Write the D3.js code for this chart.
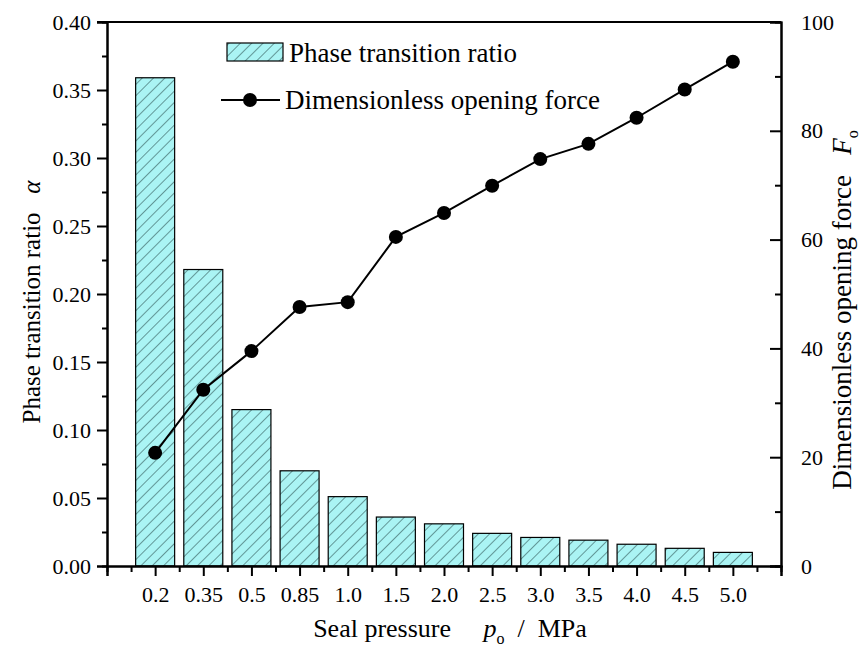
<!DOCTYPE html>
<html>
<head>
<meta charset="utf-8">
<script src="https://cdn.jsdelivr.net/npm/d3@7"></script>
<style>
  body { margin: 0; background: #fff; }
</style>
</head>
<body>
<svg id="chart" width="866" height="652" font-family="'Liberation Serif', 'Times New Roman', serif"></svg>
<script>
// data
const pressures = ["0.2", "0.35", "0.5", "0.85", "1.0", "1.5", "2.0", "2.5", "3.0", "3.5", "4.0", "4.5", "5.0"];
const phaseRatio = [0.359, 0.218, 0.115, 0.070, 0.051, 0.036, 0.031, 0.024, 0.021, 0.019, 0.016, 0.013, 0.010];
const openingForce = [20.8, 32.4, 39.5, 47.6, 48.5, 60.5, 64.9, 69.9, 74.8, 77.6, 82.4, 87.6, 92.7];
const leftTicks = [0, 0.05, 0.1, 0.15, 0.2, 0.25, 0.3, 0.35, 0.4];
const rightTicks = [0, 20, 40, 60, 80, 100];

const FONT = "'Liberation Serif', 'Times New Roman', serif";

const margin = {top: 22, right: 85, bottom: 86, left: 107};
const width = 866 - margin.left - margin.right;
const height = 652 - margin.top - margin.bottom;

const svg = d3.select("#chart");

// hatch pattern for the bars
const defs = svg.append("defs");
const pat = defs.append("pattern")
    .attr("id", "hatch")
    .attr("patternUnits", "userSpaceOnUse")
    .attr("width", 8).attr("height", 8)
    .attr("patternTransform", "rotate(45)");
pat.append("rect").attr("width", 8).attr("height", 8).attr("fill", "#aaf4f4");
pat.append("line")
    .attr("x1", 0).attr("y1", 0).attr("x2", 0).attr("y2", 8)
    .attr("stroke", "#1a3a3a").attr("stroke-width", 1);

const g = svg.append("g").attr("transform", `translate(${margin.left},${margin.top})`);

// x is linear over slots 0..14, categories at 1..13
const x = d3.scaleLinear().domain([0, pressures.length + 1]).range([0, width]);
const yL = d3.scaleLinear().domain([0, 0.4]).range([height, 0]);
const yR = d3.scaleLinear().domain([0, 100]).range([height, 0]);

const step = x(1) - x(0);
const barW = step * 0.81;

// bars
g.selectAll("rect.bar")
  .data(phaseRatio)
  .join("rect")
    .attr("class", "bar")
    .attr("x", (d, i) => x(i + 1) - barW / 2)
    .attr("y", d => yL(d))
    .attr("width", barW)
    .attr("height", d => height - yL(d))
    .attr("fill", "url(#hatch)")
    .attr("stroke", "#000")
    .attr("stroke-width", 1.2);

// line + dots
const line = d3.line()
    .x((d, i) => x(i + 1))
    .y(d => yR(d));
g.append("path")
    .datum(openingForce)
    .attr("d", line)
    .attr("fill", "none")
    .attr("stroke", "#000")
    .attr("stroke-width", 2);
g.selectAll("circle.pt")
  .data(openingForce)
  .join("circle")
    .attr("class", "pt")
    .attr("cx", (d, i) => x(i + 1))
    .attr("cy", d => yR(d))
    .attr("r", 7)
    .attr("fill", "#000");

// axes styling
const axStroke = sel => {
  sel.attr("font-family", FONT).attr("font-size", 22);
  sel.selectAll(".domain").attr("stroke", "#000").attr("stroke-width", 2);
  sel.selectAll(".tick line").attr("stroke", "#000").attr("stroke-width", 2);
  sel.selectAll(".tick text").attr("fill", "#000");
};

// left axis, minor ticks first
g.append("g")
  .call(d3.axisLeft(yL).tickValues(d3.range(0.025, 0.4, 0.05)).tickSize(5).tickFormat(""))
  .call(axStroke);
g.append("g")
  .call(d3.axisLeft(yL).tickValues(leftTicks).tickSize(10).tickPadding(6).tickFormat(d3.format(".2f")))
  .call(axStroke);

// right axis, ticks point inward
g.append("g")
  .attr("transform", `translate(${width},0)`)
  .call(d3.axisRight(yR).tickValues(d3.range(10, 100, 20)).tickSize(-6).tickFormat(""))
  .call(axStroke);
g.append("g")
  .attr("transform", `translate(${width},0)`)
  .call(d3.axisRight(yR).tickValues(rightTicks).tickSize(-11).tickPadding(20).tickFormat(d3.format("d")))
  .call(axStroke);

// bottom axis
g.append("g")
  .attr("transform", `translate(0,${height})`)
  .call(d3.axisBottom(x).tickValues(d3.range(0.5, pressures.length + 1, 1)).tickSize(6).tickFormat(""))
  .call(axStroke);
g.append("g")
  .attr("transform", `translate(0,${height})`)
  .call(d3.axisBottom(x).tickValues(d3.range(0, pressures.length + 2))
    .tickSize(10).tickPadding(10)
    .tickFormat(i => (i >= 1 && i <= pressures.length) ? pressures[i - 1] : ""))
  .call(axStroke);

// top frame line
g.append("line")
  .attr("x1", -10).attr("x2", width).attr("y1", 0).attr("y2", 0)
  .attr("stroke", "#000").attr("stroke-width", 2);

// axis titles
const ylab = svg.append("text")
  .attr("transform", `translate(40,302) rotate(-90)`)
  .attr("text-anchor", "middle")
  .attr("font-family", FONT)
  .attr("font-size", 25);
ylab.append("tspan").text("Phase transition ratio\u00a0\u00a0\u00a0");
ylab.append("tspan").attr("font-style", "italic").text("\u03b1");

const rlab = svg.append("text")
  .attr("transform", `translate(851,310) rotate(-90)`)
  .attr("text-anchor", "middle")
  .attr("font-family", FONT)
  .attr("font-size", 27);
rlab.append("tspan").text("Dimensionless opening force\u00a0\u00a0\u00a0");
rlab.append("tspan").attr("font-style", "italic").text("F");
rlab.append("tspan").attr("dy", 7).attr("font-size", 16).text("o");

const xlab = svg.append("text")
  .attr("x", 450)
  .attr("y", 637)
  .attr("text-anchor", "middle")
  .attr("font-family", FONT)
  .attr("font-size", 26);
xlab.append("tspan").text("Seal pressure\u00a0\u00a0\u00a0\u00a0\u00a0");
xlab.append("tspan").attr("font-style", "italic").text("p");
xlab.append("tspan").attr("dy", 7).attr("font-size", 16).text("o");
xlab.append("tspan").attr("dy", -7).text("\u00a0\u00a0/\u00a0\u00a0MPa");

// legend
const leg = svg.append("g").attr("font-family", FONT).attr("font-size", 27);
leg.append("rect")
  .attr("x", 227).attr("y", 43).attr("width", 56).attr("height", 18)
  .attr("fill", "url(#hatch)").attr("stroke", "#000").attr("stroke-width", 1.2);
leg.append("text").attr("x", 289).attr("y", 62).text("Phase transition ratio");
leg.append("line")
  .attr("x1", 221).attr("x2", 280).attr("y1", 100).attr("y2", 100)
  .attr("stroke", "#000").attr("stroke-width", 2);
leg.append("circle").attr("cx", 250).attr("cy", 100).attr("r", 7).attr("fill", "#000");
leg.append("text").attr("x", 285).attr("y", 109).text("Dimensionless opening force");
</script>
</body>
</html>
